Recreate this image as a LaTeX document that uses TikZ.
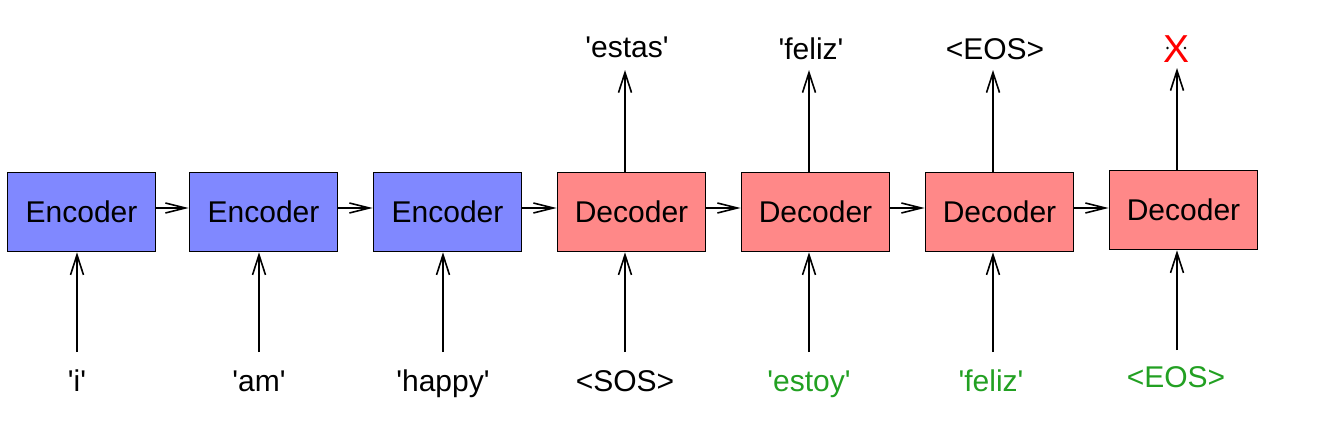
\documentclass[tikz,border=0pt]{standalone}
\usepackage{fontspec}
\setmainfont{Liberation Sans}
\usetikzlibrary{arrows.meta}
\definecolor{encblue}{HTML}{8088FF}
\definecolor{decred}{HTML}{FF8888}
\definecolor{txtgreen}{HTML}{22A022}
\newcommand{\q}{\textquotesingle}
\begin{document}
\begin{tikzpicture}[x=1pt,y=-1pt,
  box/.style={draw=black,line width=1.6pt,minimum width=148pt,minimum height=79pt,inner sep=0pt,font=\fontsize{30}{34}\selectfont},
  enc/.style={box,fill=encblue},
  dec/.style={box,fill=decred},
  varr/.style={line width=1.6pt,-{Straight Barb[length=20pt,width=13pt,line width=1.6pt]}},
  harr/.style={line width=1.6pt,-{Straight Barb[length=20pt,width=10pt,line width=1.6pt]}},
  lbl/.style={anchor=base,inner sep=0pt,font=\fontsize{30}{34}\selectfont},
  glbl/.style={lbl,text=txtgreen}]
\useasboundingbox (0,0) rectangle (1324,440);
% boxes
\node[enc] (e1) at (81.5,212) {Encoder};
\node[enc] (e2) at (263.5,212) {Encoder};
\node[enc] (e3) at (447.5,212) {Encoder};
\node[dec] (d1) at (631.5,212) {Decoder};
\node[dec] (d2) at (815.5,212) {Decoder};
\node[dec] (d3) at (999.5,212) {Decoder};
\node[dec] (d4) at (1183.5,210) {Decoder};
% horizontal arrows
\draw[harr] ([yshift=4pt]e1.east) -- ([yshift=4pt]e2.west);
\draw[harr] ([yshift=4pt]e2.east) -- ([yshift=4pt]e3.west);
\draw[harr] ([yshift=4pt]e3.east) -- ([yshift=4pt]d1.west);
\draw[harr] ([yshift=4pt]d1.east) -- ([yshift=4pt]d2.west);
\draw[harr] ([yshift=4pt]d2.east) -- ([yshift=4pt]d3.west);
\draw[harr] ([yshift=4pt]d3.east) -- ([yshift=2pt]d4.west);
% bottom labels
\node[lbl] (i1) at (77,391) {\q i\q};
\node[lbl] (i2) at (259,391) {\q am\q};
\node[lbl] (i3) at (443,391) {\q happy\q};
\node[lbl] (i4) at (625,391) {<SOS>};
\node[glbl] (i5) at (809,391) {\q estoy\q};
\node[glbl] (i6) at (991,391) {\q feliz\q};
\node[glbl] (i7) at (1176,387) {<EOS>};
% bottom arrow start points
\coordinate (s1) at (77,352);
\coordinate (s2) at (259,352);
\coordinate (s3) at (443,352);
\coordinate (s4) at (625,352);
\coordinate (s5) at (809,352);
\coordinate (s6) at (993,352);
\coordinate (s7) at (1177,350);
\foreach \s/\b in {s1/e1,s2/e2,s3/e3,s4/d1,s5/d2,s6/d3,s7/d4}
  \draw[varr] (\s) -- (\s |- \b.south);
% top labels
\node[lbl] (o1) at (627,57) {\q estas\q};
\node[lbl] (o2) at (811,59) {\q feliz\q};
\node[lbl] (o3) at (995,59) {<EOS>};
\node[lbl,text=red,font=\fontsize{39}{44}\selectfont] (o4) at (1176,62) {X};
\fill (1167.5,48) circle (1.3pt);
\fill (1185,48) circle (1.3pt);
% top arrow end points
\coordinate (t1) at (625,70);
\coordinate (t2) at (809,70);
\coordinate (t3) at (993,70);
\coordinate (t4) at (1177,68);
\foreach \t/\b in {t1/d1,t2/d2,t3/d3,t4/d4}
  \draw[varr] (\t |- \b.north) -- (\t);
\end{tikzpicture}
\end{document}
